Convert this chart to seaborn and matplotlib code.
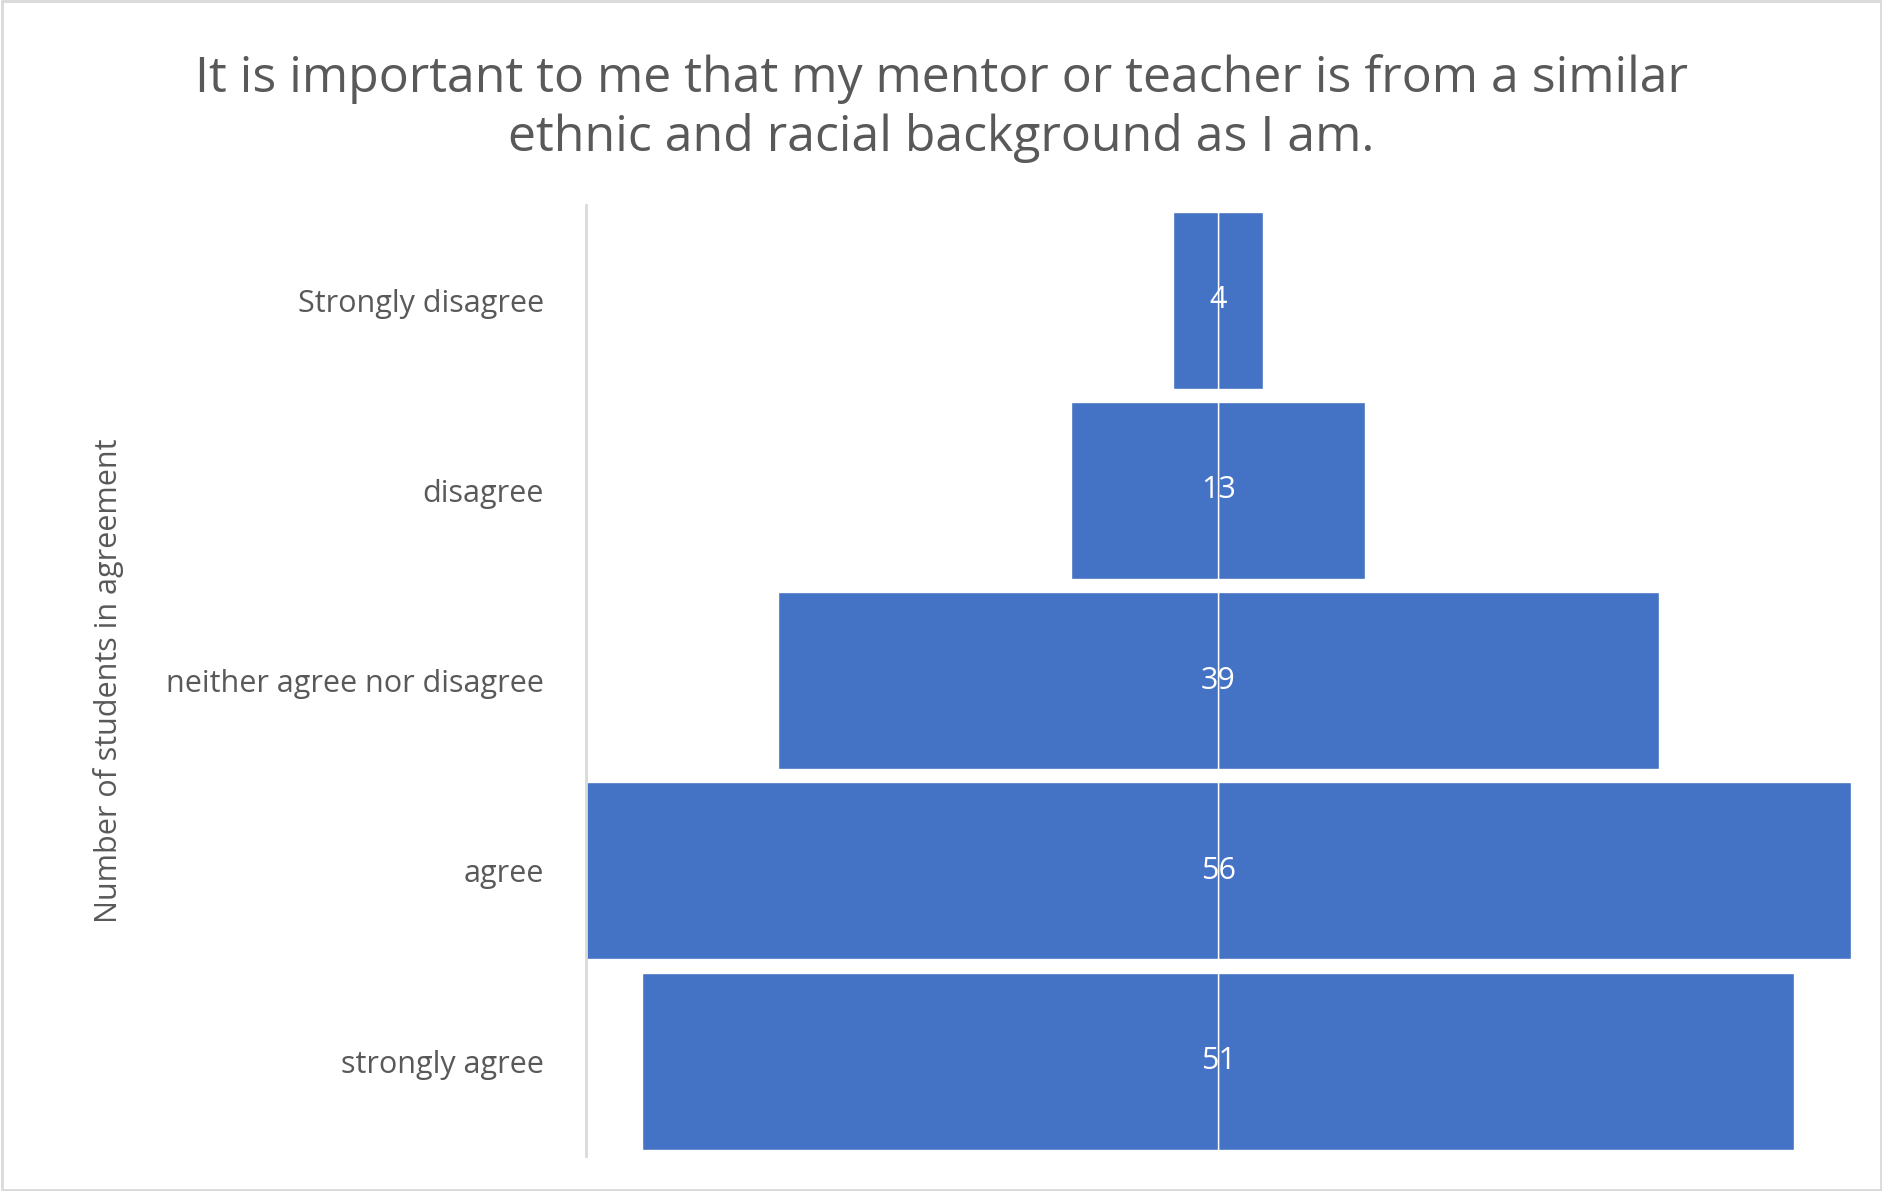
import matplotlib
matplotlib.use("Agg")
import matplotlib.pyplot as plt
import seaborn as sns
import numpy as np

categories = ["Strongly disagree", "disagree", "neither agree nor disagree", "agree", "strongly agree"]
counts = [4, 13, 39, 56, 51]

sns.set_style("white")
plt.rcParams['font.family'] = ['Open Sans', 'DejaVu Sans']

fig = plt.figure(figsize=(18.83, 11.91), dpi=100)
ax = fig.add_axes([0.311, 0.029, 0.672, 0.799])

half = np.array(counts) / 2
# centred funnel bars: one half to each side of zero
sns.barplot(x=half, y=categories, color="#4472C4", saturation=1, width=0.93, orient="h", ax=ax)
sns.barplot(x=-half, y=categories, color="#4472C4", saturation=1, width=0.93, orient="h", ax=ax)

for i, v in enumerate(counts):
    ax.text(0, i, str(v), ha="center", va="center", color="white", fontsize=22)

ax.set_xlim(-28, 28)
ax.set_ylim(4.5, -0.5)
ax.set_xticks([])
ax.tick_params(axis="y", labelsize=22, labelcolor="#595959", length=0, pad=30)
for s in ["top", "right", "bottom"]:
    ax.spines[s].set_visible(False)
ax.spines["left"].set_color("#D9D9D9")
ax.spines["left"].set_linewidth(2)
ax.set_ylabel("Number of students in agreement", fontsize=22, color="#595959", labelpad=30)
ax.set_xlabel("")

fig.text(0.5, 0.955, "It is important to me that my mentor or teacher is from a similar\nethnic and racial background as I am.",
         ha="center", va="top", fontsize=36, color="#595959", linespacing=1.25)

fig.patches.append(plt.Rectangle((0.001, 0.001), 0.998, 0.998, transform=fig.transFigure,
                                 fill=False, edgecolor="#D9D9D9", linewidth=2))
fig.savefig("out.png", dpi=100)
